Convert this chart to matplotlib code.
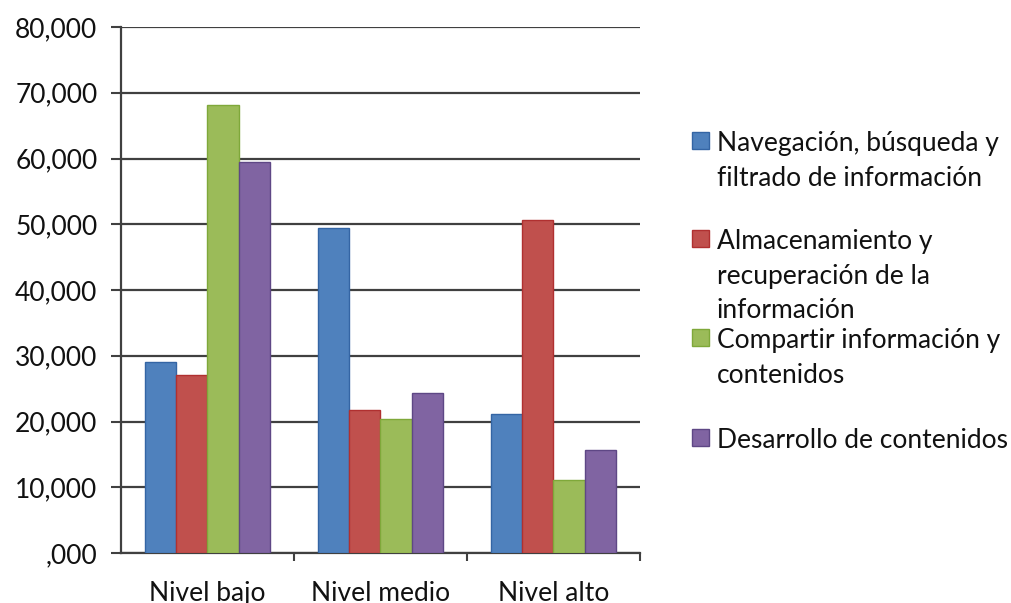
import numpy as np
import matplotlib.pyplot as plt
from matplotlib.patches import Rectangle

categories = ['Nivel bajo', 'Nivel medio', 'Nivel alto']
series_names = [
    'Navegación, búsqueda y\nfiltrado de información',
    'Almacenamiento y\nrecuperación de la\ninformación',
    'Compartir información y\ncontenidos',
    'Desarrollo de contenidos',
]
navegacion = [29.0, 49.4, 21.1]
almacenamiento = [27.0, 21.7, 50.7]
compartir = [68.2, 20.4, 11.1]
desarrollo = [59.4, 24.4, 15.7]
yticks = [0, 10, 20, 30, 40, 50, 60, 70, 80]
ytick_labels = [',000', '10,000', '20,000', '30,000', '40,000',
                '50,000', '60,000', '70,000', '80,000']

colors = ['#4F81BD', '#C0504D', '#9BBB59', '#8064A2']
edges = ['#3465A4', '#B03030', '#7FA83A', '#5E4785']

plt.rcParams['font.family'] = ['Lato', 'DejaVu Sans']

fig = plt.figure(figsize=(10.12, 6.03), dpi=100)
ax = fig.add_axes([121 / 1012, 50 / 603, 519 / 1012, 526 / 603])

x = np.arange(len(categories))
width = 0.18
all_series = [navegacion, almacenamiento, compartir, desarrollo]
for i, vals in enumerate(all_series):
    ax.bar(x + (i - 1.5) * width, vals, width, color=colors[i],
           edgecolor=edges[i], linewidth=1, zorder=3)

ax.set_xlim(-0.5, 2.5)
ax.set_ylim(0, 80)
ax.set_yticks(yticks)
ax.set_yticklabels(ytick_labels)
ax.set_xticks(x)
ax.set_xticklabels(categories)
ax.set_xticks([0.5, 1.5, 2.5], minor=True)
ax.tick_params(axis='x', which='major', length=0, pad=20, labelsize=19,
               labelcolor='#111111')
ax.tick_params(axis='x', which='minor', length=6, width=1.5, color='#404040')
ax.tick_params(axis='y', length=7, width=1.5, color='#404040', labelsize=19,
               pad=10, labelcolor='#111111')
ax.yaxis.grid(True, color='#404040', linewidth=1.6, zorder=0)
ax.set_axisbelow(True)
for s in ['top', 'right']:
    ax.spines[s].set_visible(False)
for s in ['left', 'bottom']:
    ax.spines[s].set_color('#404040')
    ax.spines[s].set_linewidth(1.6)

# legend drawn by hand so the swatch sits on the first line
legend_tops = [140, 238, 337, 437]
for name, col, edge, yy in zip(series_names, colors, edges, legend_tops):
    fig.patches.append(Rectangle((692 / 1012, 1 - (yy + 9) / 603), 17 / 1012, 17 / 603,
                                 transform=fig.transFigure, facecolor=col,
                                 edgecolor=edge, linewidth=1))
    fig.text(717 / 1012, 1 - (yy - 9) / 603, name, fontsize=19, va='top',
             ha='left', linespacing=1.48, color='#111111')

fig.savefig('out.png', dpi=100)
